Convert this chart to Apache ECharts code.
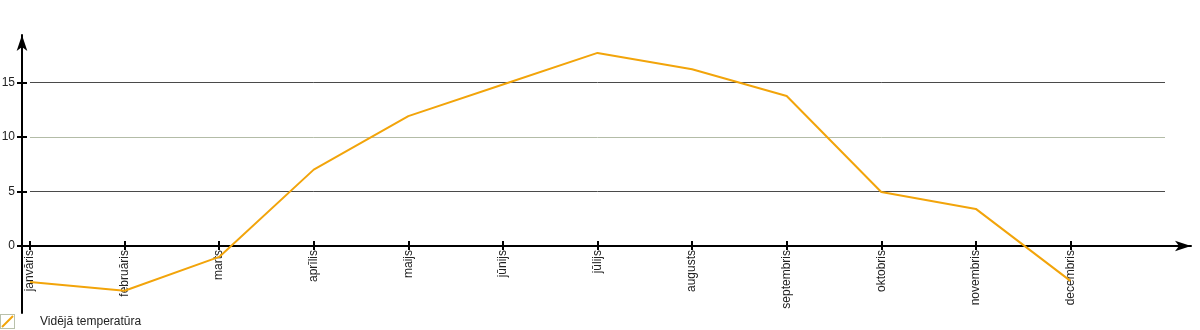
<!DOCTYPE html>
<html>
<head>
<meta charset="utf-8">
<script src="https://cdn.jsdelivr.net/npm/echarts@6/dist/echarts.min.js"></script>
<style>
html,body{margin:0;padding:0;background:#fff;}
#chart{width:1200px;height:330px;}
</style>
</head>
<body>
<div id="chart"></div>
<script>
const categories = ['janvāris','februāris','marts','aprīlis','maijs','jūnijs','jūlijs','augusts','septembris','oktobris','novembris','decembris',''];
const seriesName = 'Vidējā temperatūra';
const temperature = [-3.3, -4.1, -1.0, 7.0, 11.9, 14.8, 17.7, 16.2, 13.75, 4.95, 3.4, -3.2];
const yTickValues = [0, 5, 10, 15];

const lineColor = '#f2a40a';
const textColor = '#222';
const font = 'Liberation Sans, Arial, sans-serif';

const legendIcon = 'image://data:image/svg+xml;utf8,' + encodeURIComponent(
  '<svg xmlns="http://www.w3.org/2000/svg" width="15" height="15" viewBox="0 0 15 15">' +
  '<rect x="0.5" y="0.5" width="14" height="14" fill="#fff" stroke="#b9c1ab" stroke-width="1"/>' +
  '<line x1="2" y1="13" x2="13" y2="2" stroke="' + lineColor + '" stroke-width="2"/></svg>');

const chart = echarts.init(document.getElementById('chart'), null, {renderer: 'canvas'});
chart.setOption({
  animation: false,
  backgroundColor: '#fff',
  textStyle: {fontFamily: font},
  legend: {
    left: 0, top: 314, padding: 0,
    itemWidth: 15, itemHeight: 15,
    icon: legendIcon,
    data: [{name: seriesName, icon: legendIcon}],
    textStyle: {fontSize: 12, color: textColor, fontFamily: font, padding: [0, 0, 0, 20]}
  },
  grid: [
    {left: 22, right: 9, top: 35, bottom: 17, containLabel: false, outerBoundsMode: 'none'},
    {left: 30, right: 35, top: 27.8, bottom: 84, containLabel: false, outerBoundsMode: 'none'}
  ],
  xAxis: [
    {
      gridIndex: 0, type: 'value', min: 0, max: 1,
      axisLine: {show: true, onZero: true, symbol: ['none', 'arrow'], symbolSize: [8, 16],
        lineStyle: {color: '#000', width: 2}},
      axisTick: {show: false}, axisLabel: {show: false}, splitLine: {show: false}
    },
    {
      gridIndex: 1, type: 'category', position: 'bottom', boundaryGap: false, data: categories,
      axisLine: {show: false, onZero: false},
      axisTick: {show: true, inside: false, length: 4, interval: (i) => i < 12, lineStyle: {color: '#000', width: 2}},
      axisLabel: {show: true, interval: 0, rotate: 90, margin: 4, fontSize: 12, color: textColor, fontFamily: font},
      splitLine: {show: false}
    },
    {
      gridIndex: 1, type: 'category', position: 'bottom', boundaryGap: false, data: categories,
      axisLine: {show: false, onZero: false},
      axisTick: {show: true, inside: true, length: 5, interval: (i) => i < 12, lineStyle: {color: '#000', width: 2}},
      axisLabel: {show: false}, splitLine: {show: false}
    }
  ],
  yAxis: [
    {
      gridIndex: 0, type: 'value', min: -6.14, max: 19.34,
      axisLine: {show: true, onZero: true, symbol: ['none', 'arrow'], symbolSize: [8, 16],
        lineStyle: {color: '#000', width: 2}},
      axisTick: {show: false}, axisLabel: {show: false}, splitLine: {show: false}
    },
    {
      gridIndex: 1, type: 'value', position: 'left', offset: 8, min: 0, max: 20, interval: 5,
      axisLine: {show: false},
      axisTick: {show: true, inside: false, length: 5, customValues: yTickValues, lineStyle: {color: '#000', width: 2}},
      axisLabel: {show: true, margin: 7, fontSize: 12, color: textColor, fontFamily: font, customValues: yTickValues},
      splitLine: {show: true, showMinLine: true, showMaxLine: true,
        lineStyle: {color: ['rgba(0,0,0,0)', '#4a4a4a', '#b3bca7', '#4a4a4a'], width: 1}}
    },
    {
      gridIndex: 1, type: 'value', position: 'left', offset: 8, min: 0, max: 20, interval: 5,
      axisLine: {show: false},
      axisTick: {show: true, inside: true, length: 5, customValues: yTickValues, lineStyle: {color: '#000', width: 2}},
      axisLabel: {show: false}, splitLine: {show: false}
    }
  ],
  series: [
    {
      name: seriesName, type: 'line', xAxisIndex: 1, yAxisIndex: 1,
      data: temperature, showSymbol: false, symbol: 'none', smooth: false, clip: false,
      lineStyle: {color: lineColor, width: 2}, itemStyle: {color: lineColor},
      z: 1
    }
  ]
});
</script>
</body>
</html>
